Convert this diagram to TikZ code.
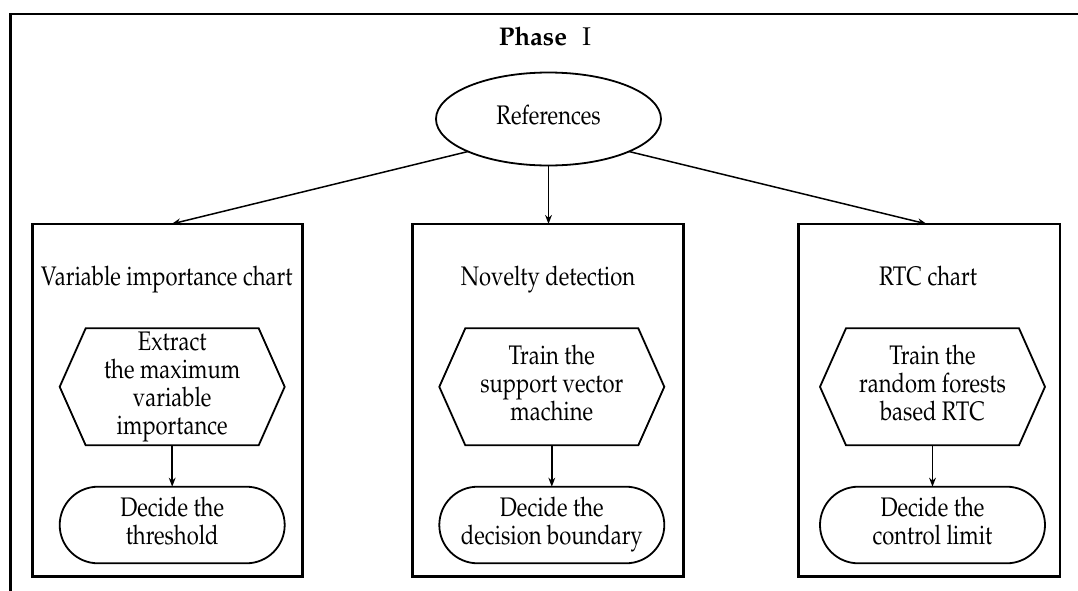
\documentclass[tikz,border=0pt]{standalone}
\usepackage[T1]{fontenc}
\usepackage{mathpazo}
\usepackage{graphicx}
\usetikzlibrary{shapes.geometric,shapes.misc,arrows.meta}
\newcommand{\vt}[1]{\scalebox{1}[1.22]{\begin{tabular}{@{}c@{}}#1\end{tabular}}}
\begin{document}
\begin{tikzpicture}[x=0.5pt,y=-0.5pt,
  every node/.style={font=\fontsize{11}{11.6}\selectfont, align=center, inner sep=0pt, outer sep=0pt},
  frameline/.style={line width=1.3pt},
  panel/.style={draw, line width=1.4pt, rectangle, minimum height=176.35pt},
  shapeline/.style={line width=0.9pt},
  hexbox/.style={minimum width=112.5pt, minimum height=58.5pt},
  termbox/.style={draw, shapeline, rounded rectangle, minimum width=112.5pt, minimum height=38.3pt},
  arr/.style={line width=0.75pt, -{Stealth[length=4.5pt,width=3.4pt]}}]
\useasboundingbox (0,0) rectangle (1078,590);
\fill[white] (0,0) rectangle (1078,590);
% outer frame (cropped right and bottom)
\draw[frameline] (10.7,620) -- (10.7,14) -- (1100,14);
\node[font=\fontsize{12.8}{14}\selectfont] (title) at (545,36) {\textbf{Phase}\hspace{0.6em}I};
% references
\node[draw, shapeline, ellipse, minimum width=112.5pt, minimum height=46.5pt] (ref) at (548.5,119) {\raisebox{-1.5pt}{\vt{References}}};
% panels
\node[panel, minimum width=135pt] (b1) at (167.7,400.3) {};
\node[panel, minimum width=135.4pt] (b2) at (548,400.3) {};
\node[panel, minimum width=130.65pt] (b3) at (929.3,400.3) {};
% headings
\node (l1) at (166.7,280) {\vt{Variable importance chart}};
\node (l2) at (548,280) {\vt{Novelty detection}};
\node (l3) at (928,280) {\vt{RTC chart}};
% hexagons
\node[hexbox] (h1) at (172.2,386.8) {\vt{Extract\\the maximum\\variable\\importance}};
\node[hexbox] (h2) at (551.8,386.8) {\vt{Train the\\support vector\\machine}};
\node[hexbox] (h3) at (932.5,386.8) {\vt{Train the\\random forests\\based RTC}};
\foreach \n in {h1,h2,h3}
  \draw[shapeline] (\n.west) -- ([xshift=13pt]\n.north west) -- ([xshift=-13pt]\n.north east)
    -- (\n.east) -- ([xshift=-13pt]\n.south east) -- ([xshift=13pt]\n.south west) -- cycle;
% terminals
\node[termbox] (t1) at (172.2,525) {\vt{Decide the\\threshold}};
\node[termbox] (t2) at (551.8,525) {\vt{Decide the\\decision boundary}};
\node[termbox] (t3) at (932.5,525) {\vt{Decide the\\control limit}};
% connectors
\draw[arr] (ref.202) -- ([xshift=2pt]b1.north);
\draw[arr] (ref.south) -- (ref.south |- b2.north);
\draw[arr] (ref.338) -- ([xshift=-1.3pt]b3.north);
\draw[arr] (h1.south) -- (t1.north);
\draw[arr] (h2.south) -- (t2.north);
\draw[arr] (h3.south) -- (t3.north);
\end{tikzpicture}
\end{document}
